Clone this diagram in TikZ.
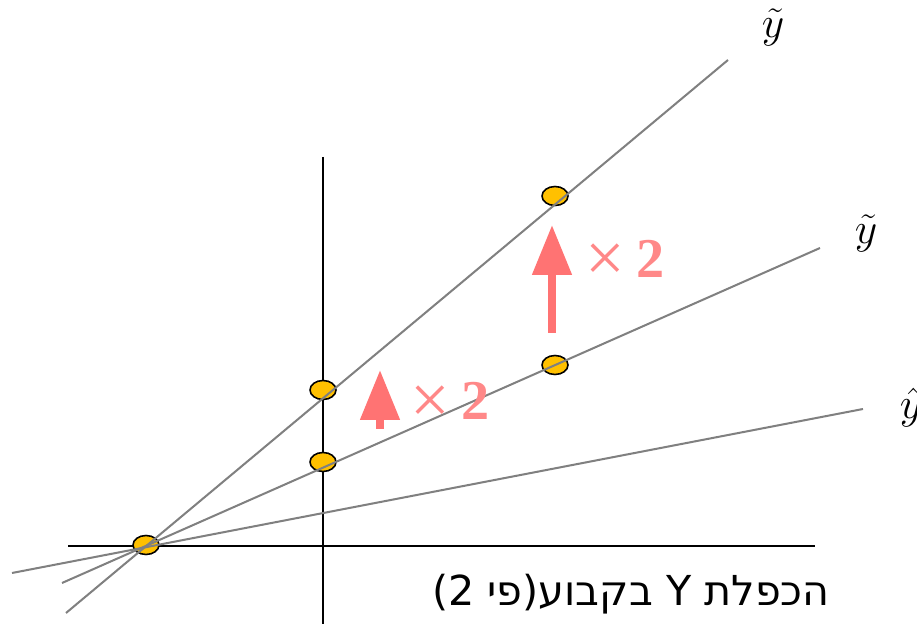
\documentclass[tikz,border=0pt]{standalone}
\usepackage{fontspec}
\usetikzlibrary{arrows.meta,shapes.geometric}
\TeXXeTstate=1
\newfontfamily\hebfont[Script=Hebrew]{DejaVu Sans}
\newfontfamily\numfont{Liberation Serif}
\definecolor{dotfill}{HTML}{FFC000}
\definecolor{markred}{HTML}{FF7373}
\definecolor{linegray}{HTML}{808080}

\begin{document}
\begin{tikzpicture}[x=0.02cm, y=-0.02cm,
    dot/.style={ellipse, draw=black, line width=0.9pt, fill=dotfill, minimum width=0.52cm, minimum height=0.38cm, inner sep=0pt},
    fitline/.style={draw=linegray, line width=1.15pt},
    bigarrow/.style={draw=markred, line width=0.16cm, -{Triangle[width=0.76cm, length=1cm]}},
    factor/.style={text=markred!85, font=\fontsize{32}{34}\selectfont\numfont},
    lbl/.style={font=\fontsize{26}{28}\selectfont}]
    \useasboundingbox (0,0) rectangle (917,624);

    % axes
    \coordinate (xl) at (68,546);
    \coordinate (xr) at (815,546);
    \coordinate (yt) at (323,157);
    \coordinate (yb) at (323,624);
    \draw[line width=1pt] (xl) -- (xr);
    \draw[line width=1pt] (yt) -- (yb);

    % points
    \node[dot] (p0) at (146,545) {};
    \node[dot] (p1) at (323,390) {};
    \node[dot] (p2) at (323,462) {};
    \node[dot] (p3) at (555,196) {};
    \node[dot] (p4) at (555,365) {};

    % lines through the common point
    \coordinate (s1) at (66,613);
    \coordinate (e1) at (728,60);
    \coordinate (s2) at (62,583);
    \coordinate (e2) at (820,248);
    \coordinate (s3) at (12,573);
    \coordinate (e3) at (863,409);
    \draw[fitline] (s1) -- (e1);
    \draw[fitline] (s2) -- (e2);
    \draw[fitline] (s3) -- (e3);

    \node[lbl] (ytop) at (773,27) {$\tilde{y}$};
    \node[lbl] (ymid) at (866,233) {$\tilde{y}$};
    \node[lbl] (yhat) at (911,408) {$\hat{y}$};

    % scaling arrows
    \coordinate (a1) at (552,333);
    \coordinate (b1) at (552,225);
    \coordinate (a2) at (380,429);
    \coordinate (b2) at (380,370);
    \draw[bigarrow] (a1) -- (b1);
    \draw[bigarrow] (a2) -- (b2);
    \node[factor] (f1) at (625,261) {\raisebox{-2.5pt}{\fontsize{40}{40}\selectfont ×}\hspace{6pt}\textbf{2}};
    \node[factor] (f2) at (450,403) {\raisebox{-2.5pt}{\fontsize{40}{40}\selectfont ×}\hspace{6pt}\textbf{2}};

    \node[font=\fontsize{23.5}{26}\selectfont\hebfont] (cap) at (631,594)
      {\beginR הכפלת Y בקבוע(פי 2)\endR};
\end{tikzpicture}
\end{document}
